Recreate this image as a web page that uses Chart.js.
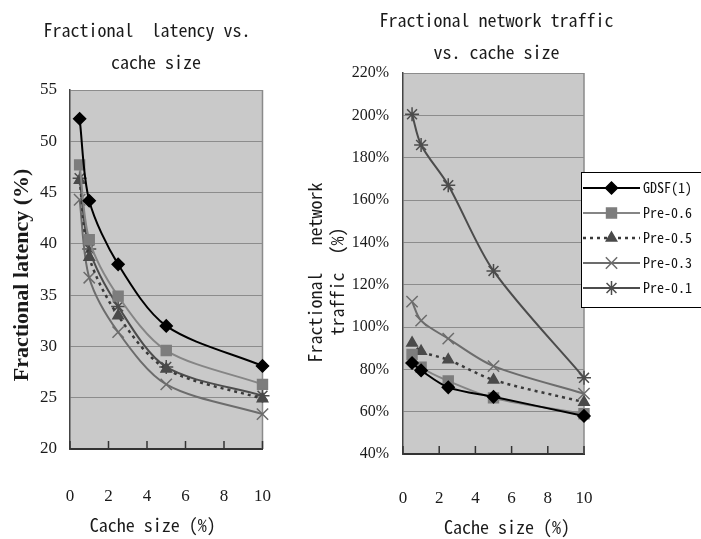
<!DOCTYPE html>
<html>
<head>
<meta charset="UTF-8">
<title>Fractional latency / network traffic vs. cache size</title>
<style>
  html, body { margin: 0; padding: 0; background: #fff; overflow: hidden; }
  #wrap { position: relative; width: 701px; height: 539px; overflow: hidden; }
  #latency { position: absolute; left: 0; top: 0; }
  #traffic { position: absolute; left: 300px; top: 0; }
</style>
</head>
<body>
<div id="wrap">
  <canvas id="latency" width="300" height="539"></canvas>
  <canvas id="traffic" width="420" height="539"></canvas>
</div>
<script src="https://cdn.jsdelivr.net/npm/chart.js@4"></script>
<script>
// cache size (%) on the x axis
var cacheSizes = [0.5, 1, 2.5, 5, 10];
var seriesNames = ['GDSF(1)', 'Pre-0.6', 'Pre-0.5', 'Pre-0.3', 'Pre-0.1'];

// fractional latency (%)
var latencyGDSF  = [52.2, 44.2, 38.0, 32.0, 28.1];
var latencyPre06 = [47.7, 40.4, 34.9, 29.6, 26.3];
var latencyPre05 = [46.2, 38.7, 33.0, 27.8, 24.9];
var latencyPre03 = [44.3, 36.7, 31.4, 26.3, 23.4];
var latencyPre01 = [46.4, 39.5, 33.9, 28.0, 25.2];

// fractional network traffic (%)
var trafficGDSF  = [83, 79.5, 71.5, 67, 58];
var trafficPre06 = [87, 81, 74.5, 66.5, 59];
var trafficPre05 = [92.5, 88.5, 84.5, 75, 64.5];
var trafficPre03 = [112, 103, 94.5, 81.5, 68.5];
var trafficPre01 = [200.5, 186, 167, 126.5, 76];

// tick labels
var xTicks = [0, 2, 4, 6, 8, 10];
var latencyTicks = [20, 25, 30, 35, 40, 45, 50, 55];
var trafficTicks = [40, 60, 80, 100, 120, 140, 160, 180, 200, 220];

// look of each series (same order as seriesNames)
var seriesStyles = [
  { color: '#000000', fill: '#000000', point: 'rectRot',  radius: 6, dash: [],     width: 2 },
  { color: '#858585', fill: '#7d7d7d', point: 'rect',     radius: 7, dash: [],     width: 2 },
  { color: '#3a3a3a', fill: '#4a4a4a', point: 'triangle', radius: 6, dash: [3, 4], width: 2.5 },
  { color: '#6c6c6c', fill: '#6c6c6c', point: 'crossRot', radius: 8, dash: [],     width: 2 },
  { color: '#4c4c4c', fill: '#4c4c4c', point: 'star',     radius: 7, dash: [],     width: 2 }
];

var monoFont = "'Noto Sans Mono CJK SC', 'Liberation Mono', monospace";
var serifFont = "'Liberation Serif', 'DejaVu Serif', serif";

function buildSets(allValues) {
  return allValues.map(function (vals, i) {
    var st = seriesStyles[i];
    return {
      label: seriesNames[i],
      data: cacheSizes.map(function (c, j) { return { x: c, y: vals[j] }; }),
      borderColor: st.color,
      borderWidth: st.width,
      borderDash: st.dash,
      pointStyle: st.point,
      pointRadius: st.radius,
      pointBackgroundColor: st.fill,
      pointBorderColor: st.fill,
      pointBorderWidth: 1.5,
      tension: 0.3,
      fill: false,
      clip: false
    };
  });
}

function useTicks(values) {
  return function (scale) {
    scale.ticks = values.map(function (v) { return { value: v }; });
  };
}

// grey plot area, right edge line and the small inward ticks on the x axis
var plotFrame = {
  id: 'plotFrame',
  beforeDraw: function (chart) {
    var a = chart.chartArea, ctx = chart.ctx;
    ctx.save();
    ctx.fillStyle = '#c9c9c9';
    ctx.fillRect(a.left, a.top, a.right - a.left, a.bottom - a.top);
    ctx.restore();
  },
  beforeDatasetsDraw: function (chart) {
    var a = chart.chartArea, ctx = chart.ctx, xs = chart.scales.x;
    ctx.save();
    ctx.strokeStyle = '#8a8a8a';
    ctx.lineWidth = 1.5;
    ctx.beginPath();
    ctx.moveTo(a.right, a.top);
    ctx.lineTo(a.right, a.bottom);
    ctx.stroke();
    ctx.strokeStyle = '#333';
    ctx.lineWidth = 1.5;
    xs.ticks.forEach(function (t) {
      var px = xs.getPixelForValue(t.value);
      ctx.beginPath();
      ctx.moveTo(px, a.bottom);
      ctx.lineTo(px, a.bottom - 8);
      ctx.stroke();
    });
    ctx.restore();
  }
};

// boxed legend with line + marker samples, drawn from the datasets
var boxedLegend = {
  id: 'boxedLegend',
  afterDraw: function (chart, args, o) {
    if (!o || !o.show) return;
    var ctx = chart.ctx;
    ctx.save();
    ctx.fillStyle = '#ffffff';
    ctx.fillRect(o.x, o.y, o.w, o.h);
    ctx.strokeStyle = '#000';
    ctx.lineWidth = 1;
    ctx.strokeRect(o.x + 0.5, o.y + 0.5, o.w, o.h);
    chart.data.datasets.forEach(function (ds, i) {
      var y = o.y + o.first + i * o.step;
      var x0 = o.x + 2;
      ctx.strokeStyle = ds.borderColor;
      ctx.lineWidth = ds.borderWidth;
      ctx.setLineDash(ds.borderDash || []);
      ctx.beginPath();
      ctx.moveTo(x0, y);
      ctx.lineTo(x0 + o.lineLen, y);
      ctx.stroke();
      ctx.setLineDash([]);
      ctx.fillStyle = ds.pointBackgroundColor;
      ctx.strokeStyle = ds.pointBorderColor;
      ctx.lineWidth = ds.pointBorderWidth;
      Chart.helpers.drawPoint(ctx, {
        pointStyle: ds.pointStyle,
        radius: ds.pointRadius,
        rotation: 0,
        borderWidth: ds.pointBorderWidth
      }, x0 + o.lineLen / 2, y);
      ctx.fillStyle = '#111';
      ctx.font = o.fontSize + 'px ' + monoFont;
      ctx.textAlign = 'left';
      ctx.textBaseline = 'middle';
      ctx.fillText(ds.label, o.x + o.textX, y);
    });
    ctx.restore();
  }
};

new Chart(document.getElementById('latency'), {
  type: 'line',
  data: { datasets: buildSets([latencyGDSF, latencyPre06, latencyPre05, latencyPre03, latencyPre01]) },
  options: {
    responsive: false,
    animation: false,
    layout: { padding: { left: 0, right: 33, top: 0, bottom: 0 } },
    plugins: {
      legend: { display: false },
      tooltip: { enabled: false },
      title: {
        display: true,
        text: ['   Fractional  latency vs.', '     cache size'],
        color: '#1a1a1a',
        font: { family: monoFont, size: 18, weight: 'normal', lineHeight: '32px' },
        padding: { top: 14, bottom: 12 }
      }
    },
    scales: {
      x: {
        type: 'linear', min: 0, max: 10,
        afterBuildTicks: useTicks(xTicks),
        afterFit: function (s) { s.height = 90; },
        grid: { display: false },
        border: { display: true, color: '#333', width: 2 },
        ticks: { padding: 29, color: '#1a1a1a', font: { family: serifFont, size: 17 }, maxRotation: 0, autoSkip: false },
        title: { display: true, text: 'Cache size (%)   ', color: '#1a1a1a',
                 font: { family: monoFont, size: 18 }, padding: { top: 0, bottom: 3 } }
      },
      y: {
        min: 20, max: 55,
        afterBuildTicks: useTicks(latencyTicks),
        afterFit: function (s) { s.width = 70; },
        grid: { color: '#8c8c8c', lineWidth: 1, drawTicks: false },
        border: { display: true, color: '#444', width: 1.5 },
        ticks: { padding: 13, color: '#1a1a1a', font: { family: serifFont, size: 17 } },
        title: { display: true, text: 'Fractional latency (%)  ', color: '#1a1a1a',
                 font: { family: serifFont, size: 22, weight: 'bold' }, padding: { top: 9, bottom: 0 } }
      }
    }
  },
  plugins: [plotFrame]
});

new Chart(document.getElementById('traffic'), {
  type: 'line',
  data: { datasets: buildSets([trafficGDSF, trafficPre06, trafficPre05, trafficPre03, trafficPre01]) },
  options: {
    responsive: false,
    animation: false,
    layout: { padding: { left: 0, right: 0, top: 0, bottom: 0 } },
    plugins: {
      legend: { display: false },
      tooltip: { enabled: false },
      title: {
        display: true,
        text: ['Fractional network traffic   ', 'vs. cache size   '],
        color: '#1a1a1a',
        font: { family: monoFont, size: 18, weight: 'normal', lineHeight: '32px' },
        padding: { top: 4, bottom: 5 }
      },
      boxedLegend: { show: true, x: 281, y: 172, w: 200, h: 135, first: 16, step: 25, lineLen: 57, textX: 62, fontSize: 14 }
    },
    scales: {
      x: {
        type: 'linear', min: 0, max: 10,
        afterBuildTicks: useTicks(xTicks),
        afterFit: function (s) { s.height = 85; },
        grid: { display: false },
        border: { display: true, color: '#333', width: 2 },
        ticks: { padding: 26, color: '#1a1a1a', font: { family: serifFont, size: 17 }, maxRotation: 0, autoSkip: false },
        title: { display: true, text: '   Cache size (%)', color: '#1a1a1a',
                 font: { family: monoFont, size: 18 }, padding: { top: 0, bottom: 1 } }
      },
      y: {
        min: 40, max: 220,
        afterBuildTicks: useTicks(trafficTicks),
        afterFit: function (s) { s.width = 103; },
        grid: { color: '#8c8c8c', lineWidth: 1, drawTicks: false },
        border: { display: true, color: '#444', width: 1.5 },
        ticks: { padding: 14, color: '#1a1a1a', font: { family: serifFont, size: 16 },
                 callback: function (v) { return v + '%'; } },
        title: { display: true, text: ['Fractional   network  ', 'traffic  (%)    '], color: '#1a1a1a',
                 font: { family: monoFont, size: 18, lineHeight: '22px' }, padding: { top: 4, bottom: 0 } }
      },
      // empty right-hand box that keeps the plot clear of the legend column
      side: {
        type: 'linear', position: 'right', display: true,
        afterFit: function (s) { s.width = 136; },
        grid: { display: false, drawTicks: false },
        border: { display: false },
        ticks: { display: false }
      }
    }
  },
  plugins: [plotFrame, boxedLegend]
});
</script>
</body>
</html>
